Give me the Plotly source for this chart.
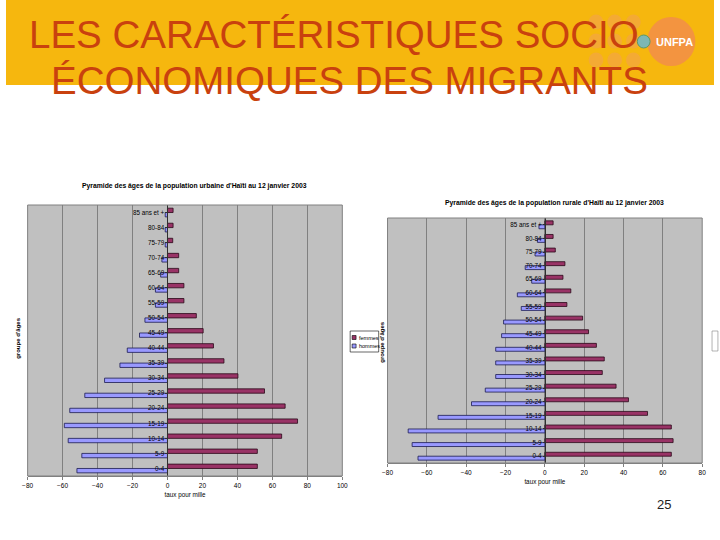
import plotly.graph_objects as go

W, H = 720, 540

age_groups = ["0-4", "5-9", "10-14", "15-19", "20-24", "25-29", "30-34", "35-39",
              "40-44", "45-49", "50-54", "55-59", "60-64", "65-69", "70-74",
              "75-79", "80-84", "85 ans et +"]
urb_femmes = [51.4, 51.4, 65.3, 74.4, 67.3, 55.5, 40.3, 32.3, 26.3, 20.4, 16.5,
              9.4, 9.4, 6.4, 6.4, 3.0, 3.2, 3.2]
urb_hommes = [-51.8, -49.0, -56.8, -59.0, -55.9, -47.3, -36.0, -27.2, -23.0,
              -16.0, -12.9, -6.9, -6.9, -3.9, -3.2, -1.3, -1.3, -1.3]
rur_femmes = [64.3, 65.2, 64.3, 52.2, 42.5, 36.2, 29.2, 30.2, 26.2, 22.2, 19.2,
              11.2, 13.2, 9.2, 10.2, 5.3, 4.2, 4.2]
rur_hommes = [-64.5, -67.5, -69.5, -54.3, -37.3, -30.3, -25.0, -25.0, -25.0,
              -22.0, -21.0, -12.0, -14.0, -6.7, -10.0, -5.0, -3.8, -3.0]

urb_ticks = [-80, -60, -40, -20, 0, 20, 40, 60, 80, 100]
rur_ticks = [-80, -60, -40, -20, 0, 20, 40, 60, 80]

slide_title_1 = "LES CARACTÉRISTIQUES SOCIO"
slide_title_2 = "ÉCONOMIQUES DES MIGRANTS"
urb_title = "Pyramide des âges de la population urbaine d'Haïti au 12 janvier 2003"
rur_title = "Pyramide des âges de la population rurale d'Haïti au 12 janvier 2003"
x_title = "taux pour mille"
y_title = "groupe d'âges"
legend_labels = ["femmes", "hommes"]
page_no = "25"

FONT = "Liberation Sans, Arial, sans-serif"
C_F = "#993366"
C_H = "#9999FF"
C_F_LINE = "#2a0818"
C_H_LINE = "#1a1a50"
TITLE_C = "#C9410E"
BANNER_C = "#F6B70E"


def px(p):
    return p / W


def py(p):
    return 1 - p / H


# plot-area boxes in pixels
L_X, L_Y = (22, 342), (205, 476)
R_X, R_Y = (388, 708), (218, 463)


def zero_pos(xdom, rng):
    a, b = px(xdom[0]), px(xdom[1])
    return a + (b - a) * (0 - rng[0]) / (rng[1] - rng[0])


fig = go.Figure()

fig.add_trace(go.Bar(y=age_groups, x=urb_hommes, orientation="h", name=legend_labels[1],
                     marker=dict(color=C_H, line=dict(color=C_H_LINE, width=0.8)),
                     xaxis="x", yaxis="y", showlegend=False))
fig.add_trace(go.Bar(y=age_groups, x=urb_femmes, orientation="h", name=legend_labels[0],
                     marker=dict(color=C_F, line=dict(color=C_F_LINE, width=0.8)),
                     xaxis="x", yaxis="y", showlegend=False))
fig.add_trace(go.Bar(y=age_groups, x=rur_hommes, orientation="h", name=legend_labels[1],
                     marker=dict(color=C_H, line=dict(color=C_H_LINE, width=0.8)),
                     xaxis="x2", yaxis="y2", showlegend=False))
fig.add_trace(go.Bar(y=age_groups, x=rur_femmes, orientation="h", name=legend_labels[0],
                     marker=dict(color=C_F, line=dict(color=C_F_LINE, width=0.8)),
                     xaxis="x2", yaxis="y2", showlegend=False))

urb_range = [urb_ticks[0], urb_ticks[-1]]
rur_range = [rur_ticks[0], rur_ticks[-1]]

xcommon = dict(showgrid=True, gridcolor="#808080", gridwidth=1, ticks="outside",
               ticklen=3, tickcolor="#808080", tickfont=dict(size=6.5, family=FONT, color="#000"),
               showline=True, linecolor="#808080", linewidth=1, zeroline=False,
               fixedrange=True)
ycommon = dict(type="category", categoryorder="array", categoryarray=age_groups,
               showgrid=False, ticks="outside", ticklen=2, tickcolor="#303030",
               tickfont=dict(size=6.3, family=FONT, color="#000"), showline=True,
               linecolor="#303030", linewidth=1, anchor="free", zeroline=False,
               fixedrange=True, range=[-0.5, len(age_groups) - 0.5])

fig.update_layout(
    width=W, height=H, margin=dict(l=0, r=0, t=0, b=0),
    paper_bgcolor="white", plot_bgcolor="#C0C0C0",
    barmode="group", bargap=0.42, bargroupgap=0,
    font=dict(family=FONT),
    xaxis=dict(domain=[px(L_X[0]), px(L_X[1])], range=urb_range, tickvals=urb_ticks,
               anchor="y",
               title=dict(text=x_title, font=dict(size=6.3, family=FONT, color="#000"), standoff=4),
               **xcommon),
    yaxis=dict(domain=[py(L_Y[1]), py(L_Y[0])], position=zero_pos(L_X, urb_range), **ycommon),
    xaxis2=dict(domain=[px(R_X[0]), px(R_X[1])], range=rur_range, tickvals=rur_ticks,
                anchor="y2",
                title=dict(text=x_title, font=dict(size=6.3, family=FONT, color="#000"), standoff=4),
                **xcommon),
    yaxis2=dict(domain=[py(R_Y[1]), py(R_Y[0])], position=zero_pos(R_X, rur_range), **ycommon),
)

shapes = []
# banner
shapes.append(dict(type="rect", xref="paper", yref="paper", x0=0, x1=1, y0=py(85), y1=1,
                   fillcolor=BANNER_C, line=dict(width=0), layer="below"))
# decorative dots
for cx in (600, 619, 638):
    for cy in (22, 41, 60):
        r = 7.5
        shapes.append(dict(type="circle", xref="paper", yref="paper",
                           x0=px(cx - r), x1=px(cx + r), y0=py(cy + r), y1=py(cy - r),
                           fillcolor="#F3A24F", opacity=0.6, line=dict(width=0)))
# logo circle
shapes.append(dict(type="circle", xref="paper", yref="paper",
                   x0=px(652), x1=px(701), y0=py(66), y1=py(17),
                   fillcolor="#F39440", line=dict(width=0)))
shapes.append(dict(type="circle", xref="paper", yref="paper",
                   x0=px(642), x1=px(655), y0=py(48), y1=py(35),
                   fillcolor="#7DB7B4", line=dict(color="#5C9A6A", width=1)))
# plot frames
for (xa, ya) in (("x", "y"), ("x2", "y2")):
    shapes.append(dict(type="rect", xref=f"{xa} domain", yref=f"{ya} domain",
                       x0=0, x1=1, y0=0, y1=1, line=dict(color="#808080", width=1)))
# legend box (left chart)
shapes.append(dict(type="rect", xref="paper", yref="paper",
                   x0=px(350), x1=px(379), y0=py(352), y1=py(331),
                   fillcolor="white", line=dict(color="#000", width=0.6)))
shapes.append(dict(type="rect", xref="paper", yref="paper",
                   x0=px(352), x1=px(356), y0=py(339.5), y1=py(335.5),
                   fillcolor=C_F, line=dict(color="#000", width=0.6)))
shapes.append(dict(type="rect", xref="paper", yref="paper",
                   x0=px(352), x1=px(356), y0=py(348), y1=py(344),
                   fillcolor=C_H, line=dict(color="#000", width=0.6)))
# right legend remnant at page edge
shapes.append(dict(type="rect", xref="paper", yref="paper",
                   x0=px(718), x1=px(724), y0=py(351), y1=py(331),
                   fillcolor="white", line=dict(color="#808080", width=0.6)))
fig.update_layout(shapes=shapes)

ann = []
ann.append(dict(text=slide_title_1, xref="paper", yref="paper", x=px(21), y=py(34),
                xanchor="left", yanchor="middle", showarrow=False,
                font=dict(size=38.5, family=FONT, color=TITLE_C)))
ann.append(dict(text=slide_title_2, xref="paper", yref="paper", x=px(44), y=py(80),
                xanchor="left", yanchor="middle", showarrow=False,
                font=dict(size=38.5, family=FONT, color=TITLE_C)))
ann.append(dict(text="<b>UNFPA</b>", xref="paper", yref="paper", x=px(680), y=py(42),
                xanchor="center", yanchor="middle", showarrow=False,
                font=dict(size=11, family=FONT, color="white")))
ann.append(dict(text=f"<b>{urb_title}</b>", xref="paper", yref="paper", x=px(192), y=py(186),
                xanchor="center", yanchor="middle", showarrow=False,
                font=dict(size=6.8, family=FONT, color="#000")))
ann.append(dict(text=f"<b>{rur_title}</b>", xref="paper", yref="paper", x=px(558), y=py(203),
                xanchor="center", yanchor="middle", showarrow=False,
                font=dict(size=6.8, family=FONT, color="#000")))
ann.append(dict(text=f"<b>{y_title}</b>", xref="paper", yref="paper", x=px(12), y=py(338),
                xanchor="center", yanchor="middle", showarrow=False, textangle=-90,
                font=dict(size=6, family=FONT, color="#000")))
ann.append(dict(text=f"<b>{y_title}</b>", xref="paper", yref="paper", x=px(382), y=py(342),
                xanchor="center", yanchor="middle", showarrow=False, textangle=-90,
                font=dict(size=6, family=FONT, color="#000")))
ann.append(dict(text=legend_labels[0], xref="paper", yref="paper", x=px(357), y=py(337.5),
                xanchor="left", yanchor="middle", showarrow=False,
                font=dict(size=5.5, family=FONT, color="#000")))
ann.append(dict(text=legend_labels[1], xref="paper", yref="paper", x=px(357), y=py(346),
                xanchor="left", yanchor="middle", showarrow=False,
                font=dict(size=5.5, family=FONT, color="#000")))
ann.append(dict(text=page_no, xref="paper", yref="paper", x=px(669), y=py(504),
                xanchor="center", yanchor="middle", showarrow=False,
                font=dict(size=13, family=FONT, color="#222")))
fig.update_layout(annotations=ann)

fig.write_html("out.html", config={"displayModeBar": False},
               post_script="document.body.style.margin='0';document.body.style.padding='0';")
